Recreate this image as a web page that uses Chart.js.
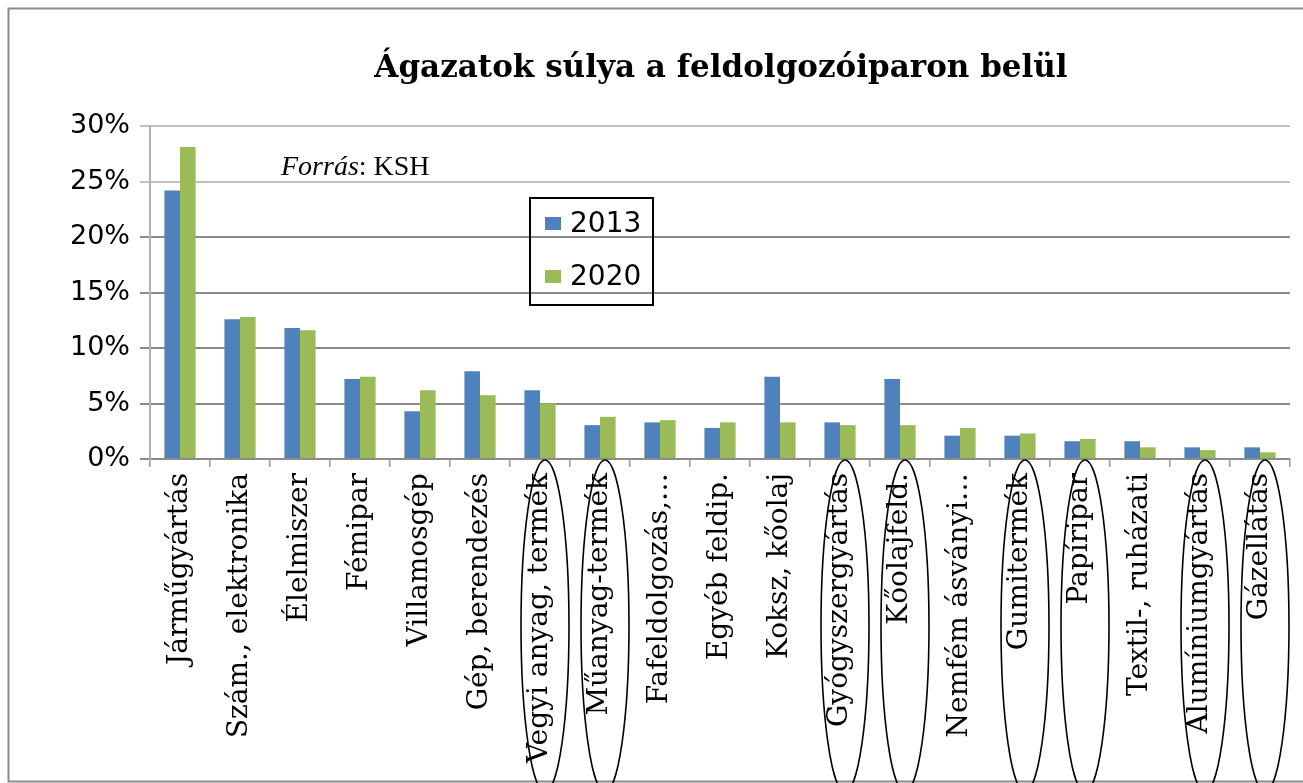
<!DOCTYPE html>
<html>
<head>
<meta charset="utf-8">
<script src="https://cdn.jsdelivr.net/npm/chart.js@4/dist/chart.umd.min.js"></script>
<style>
  html, body { margin: 0; padding: 0; background: #ffffff; }
  #wrap { width: 1303px; height: 783px; }
</style>
</head>
<body>
<div id="wrap"><canvas id="c" width="1303" height="783"></canvas></div>
<script>
// ---- data ----
const chartTitle = 'Ágazatok súlya a feldolgozóiparon belül';
const categories = ['Járműgyártás', 'Szám., elektronika', 'Élelmiszer', 'Fémipar', 'Villamosgép',
  'Gép, berendezés', 'Vegyi anyag, termék', 'Műanyag-termék', 'Fafeldolgozás,…', 'Egyéb feldip.',
  'Koksz, kőolaj', 'Gyógyszergyártás', 'Kőolajfeld.', 'Nemfém ásványi…', 'Gumitermék',
  'Papíripar', 'Textil-, ruházati', 'Alumíniumgyártás', 'Gázellátás'];
const seriesNames = ['2013', '2020'];
const values2013 = [24.2, 12.6, 11.8, 7.2, 4.3, 7.9, 6.2, 3.05, 3.3, 2.8, 7.4, 3.3, 7.2, 2.1, 2.1, 1.6, 1.6, 1.05, 1.05];
const values2020 = [28.1, 12.8, 11.6, 7.4, 6.2, 5.75, 5.0, 3.8, 3.5, 3.3, 3.3, 3.05, 3.05, 2.8, 2.3, 1.8, 1.05, 0.8, 0.6];
const yTicks = [0, 5, 10, 15, 20, 25, 30];
const circledCategories = ['Vegyi anyag, termék', 'Műanyag-termék', 'Gyógyszergyártás', 'Kőolajfeld.',
  'Gumitermék', 'Papíripar', 'Alumíniumgyártás', 'Gázellátás'];
const sourceItalic = 'Forrás';
const sourceRest = ': KSH';

const colors = ['#4F81BD', '#9BBB59'];

const decorPlugin = {
  id: 'decor',
  afterDraw(chart) {
    const ctx = chart.ctx;
    const x = chart.scales.x;
    // outer frame
    ctx.save();
    ctx.strokeStyle = '#8a8a8a';
    ctx.lineWidth = 2;
    ctx.strokeRect(8.5, 8.5, 1310, 773);
    // title
    ctx.fillStyle = '#000';
    ctx.font = 'bold 31px "DejaVu Serif"';
    ctx.textAlign = 'center';
    ctx.textBaseline = 'alphabetic';
    ctx.fillText(chartTitle, 721, 77);
    // source note
    ctx.textAlign = 'left';
    ctx.font = 'italic 28px "Liberation Serif"';
    ctx.fillText(sourceItalic, 281, 175);
    const w = ctx.measureText(sourceItalic).width;
    ctx.font = '28px "Liberation Serif"';
    ctx.fillText(sourceRest, 281 + w, 175);
    // legend
    ctx.strokeStyle = '#000';
    ctx.lineWidth = 2;
    ctx.strokeRect(530, 198, 123, 107);
    chart.data.datasets.forEach((ds, i) => {
      ctx.fillStyle = ds.backgroundColor;
      ctx.fillRect(545, 217 + i * 53, 16, 13);
      ctx.fillStyle = '#000';
      ctx.font = '28px "DejaVu Sans"';
      ctx.textBaseline = 'middle';
      ctx.fillText(ds.label, 570, 225 + i * 53);
    });
    // ellipses around selected category labels
    ctx.strokeStyle = '#000';
    ctx.lineWidth = 1.6;
    circledCategories.forEach(name => {
      const idx = categories.indexOf(name);
      if (idx < 0) return;
      const cx = x.getPixelForValue(idx) + 5;
      ctx.beginPath();
      ctx.ellipse(cx, 626, 24, 166, 0, 0, Math.PI * 2);
      ctx.stroke();
    });
    ctx.restore();
  }
};

new Chart(document.getElementById('c'), {
  type: 'bar',
  data: {
    labels: categories,
    datasets: [
      { label: seriesNames[0], data: values2013, backgroundColor: colors[0] },
      { label: seriesNames[1], data: values2020, backgroundColor: colors[1] }
    ]
  },
  options: {
    responsive: false,
    animation: false,
    devicePixelRatio: 1,
    layout: { padding: { left: 10, right: 13, top: 126, bottom: 0 } },
    datasets: { bar: { categoryPercentage: 0.52, barPercentage: 1.0 } },
    plugins: {
      legend: { display: false },
      title: { display: false },
      tooltip: { enabled: false }
    },
    scales: {
      x: {
        afterFit: s => { s.height = 324; },
        grid: { display: true, drawOnChartArea: false, drawTicks: true, tickLength: 8, color: '#999', lineWidth: 1.5, offset: true },
        border: { display: true, color: '#8c8c8c', width: 2 },
        ticks: {
          autoSkip: false, minRotation: 90, maxRotation: 90, padding: 6,
          color: '#000', font: { family: '"DejaVu Serif"', size: 28 }
        }
      },
      y: {
        min: 0, max: 30,
        afterFit: s => { s.width = 140; },
        afterBuildTicks: s => { s.ticks = yTicks.map(v => ({ value: v })); },
        grid: {
          color: c => (c.tick && c.tick.value >= 25) ? '#c0c0c0' : '#8c8c8c',
          lineWidth: 2, tickLength: 10
        },
        border: { display: true, color: '#b0b0b0', width: 2 },
        ticks: {
          padding: 10, color: '#000',
          font: { family: '"DejaVu Sans"', size: 27 },
          callback: v => v + '%'
        }
      }
    }
  },
  plugins: [decorPlugin]
});
</script>
</body>
</html>
